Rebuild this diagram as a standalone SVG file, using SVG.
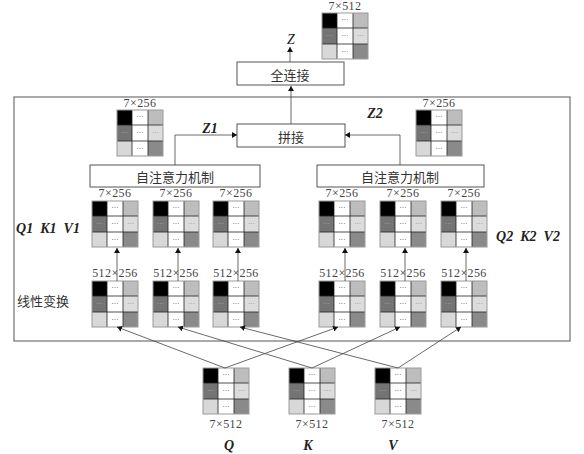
<svg xmlns="http://www.w3.org/2000/svg" xmlns:xlink="http://www.w3.org/1999/xlink" width="584" height="454" viewBox="0 0 584 454">
<style>
.box{fill:#fff;stroke:#555;stroke-width:1}
.ln{stroke:#444;stroke-width:0.8;fill:none}
.dim{font-family:"Liberation Serif",serif;font-size:12px;fill:#444;text-anchor:middle;letter-spacing:0.4px}
.cn{font-family:"Noto Sans CJK SC",sans-serif;font-size:13px;fill:#333;text-anchor:middle;dominant-baseline:central}
.it{font-family:"Liberation Serif",serif;font-style:italic;font-weight:bold;font-size:14px;fill:#222;text-anchor:middle}
.dt{font-family:"Liberation Sans",sans-serif;font-size:7px;text-anchor:middle;fill:#333}
.dg1{font-family:"Liberation Sans",sans-serif;font-size:7px;text-anchor:middle;fill:#b0b0b0}
.dg2{font-family:"Liberation Sans",sans-serif;font-size:7px;text-anchor:middle;fill:#888}
</style>
<defs>
<marker id="ah" viewBox="0 0 10 10" refX="10" refY="5" markerWidth="5" markerHeight="6" orient="auto" markerUnits="userSpaceOnUse" preserveAspectRatio="none">
<path d="M0,0 L10,5 L0,10 Z" fill="#111"/>
</marker>
<g id="mat">
<rect x="0" y="0" width="15" height="15" fill="#000"/>
<rect x="15" y="0" width="16" height="15" fill="#fff"/>
<rect x="31" y="0" width="15" height="15" fill="#bdbdbd"/>
<rect x="0" y="15" width="15" height="16" fill="#747474"/>
<rect x="15" y="15" width="16" height="16" fill="#fff"/>
<rect x="31" y="15" width="15" height="16" fill="#dcdcdc"/>
<rect x="0" y="31" width="15" height="15" fill="#d8d8d8"/>
<rect x="15" y="31" width="16" height="15" fill="#fff"/>
<rect x="31" y="31" width="15" height="15" fill="#8a8a8a"/>
<path d="M15,0 V46 M31,0 V46 M0,15 H46 M0,31 H46" stroke="#222" stroke-width="0.8"/>
<rect x="0" y="0" width="46" height="46" fill="none" stroke="#9a9a9a" stroke-width="1"/>
<text class="dt" x="23" y="9">···</text>
<text class="dt" x="23" y="25">···</text>
<text class="dt" x="23" y="41">···</text>
<text class="dg1" x="7.5" y="25">···</text>
<text class="dg2" x="38.5" y="25">···</text>
</g>
</defs>
<rect width="584" height="454" fill="#fff"/>

<g id="frame"><rect class="box" x="14" y="97" width="556" height="244" fill="none"/></g>

<g id="fc"><rect class="box" x="237" y="62" width="107" height="23"/><text class="cn" x="290" y="74">全连接</text></g>
<g id="concat"><rect class="box" x="237" y="124" width="108" height="23"/><text class="cn" x="291" y="136">拼接</text></g>
<g id="att1"><rect class="box" x="90" y="165" width="170" height="22"/><text class="cn" x="175" y="176">自注意力机制</text></g>
<g id="att2"><rect class="box" x="317" y="165" width="167" height="22"/><text class="cn" x="400" y="176">自注意力机制</text></g>

<g id="labels">
<text class="it" x="291" y="44" style="font-weight:normal">Z</text>
<text class="it" x="210" y="133">Z1</text>
<text class="it" x="375" y="118">Z2</text>
<text class="it" x="48" y="233" xml:space="preserve">Q1  K1  V1</text>
<text class="it" x="528" y="241" xml:space="preserve">Q2  K2  V2</text>
<text class="cn" x="43" y="300">线性变换</text>
<text class="it" x="229" y="450">Q</text>
<text class="it" x="308" y="450">K</text>
<text class="it" x="393" y="450">V</text>
</g>

<g id="m-top"><use xlink:href="#mat" x="322" y="13"/><text class="dim" x="345" y="10">7×512</text></g>
<g id="m-z1"><use xlink:href="#mat" x="117" y="110"/><text class="dim" x="140" y="107">7×256</text></g>
<g id="m-z2"><use xlink:href="#mat" x="416" y="110"/><text class="dim" x="439" y="107">7×256</text></g>

<g id="m-q1"><use xlink:href="#mat" x="92" y="201"/><text class="dim" x="115" y="197">7×256</text></g>
<g id="m-k1"><use xlink:href="#mat" x="153" y="201"/><text class="dim" x="176" y="197">7×256</text></g>
<g id="m-v1"><use xlink:href="#mat" x="213" y="201"/><text class="dim" x="236" y="197">7×256</text></g>
<g id="m-q2"><use xlink:href="#mat" x="319" y="201"/><text class="dim" x="342" y="197">7×256</text></g>
<g id="m-k2"><use xlink:href="#mat" x="380" y="201"/><text class="dim" x="403" y="197">7×256</text></g>
<g id="m-v2"><use xlink:href="#mat" x="441" y="201"/><text class="dim" x="464" y="197">7×256</text></g>

<g id="w-q1"><use xlink:href="#mat" x="92" y="281"/><text class="dim" x="115" y="277">512×256</text></g>
<g id="w-k1"><use xlink:href="#mat" x="153" y="281"/><text class="dim" x="176" y="277">512×256</text></g>
<g id="w-v1"><use xlink:href="#mat" x="213" y="281"/><text class="dim" x="236" y="277">512×256</text></g>
<g id="w-q2"><use xlink:href="#mat" x="319" y="281"/><text class="dim" x="342" y="277">512×256</text></g>
<g id="w-k2"><use xlink:href="#mat" x="380" y="281"/><text class="dim" x="403" y="277">512×256</text></g>
<g id="w-v2"><use xlink:href="#mat" x="441" y="281"/><text class="dim" x="464" y="277">512×256</text></g>

<g id="in-q"><use xlink:href="#mat" x="203" y="368"/><text class="dim" x="226" y="428">7×512</text></g>
<g id="in-k"><use xlink:href="#mat" x="289" y="368"/><text class="dim" x="312" y="428">7×512</text></g>
<g id="in-v"><use xlink:href="#mat" x="375" y="368"/><text class="dim" x="398" y="428">7×512</text></g>

<g id="connectors" class="ln" marker-end="url(#ah)">
<path d="M290,62 V47"/>
<path d="M291,124 V86"/>
<path d="M175,165 V135 H237"/>
<path d="M400,165 V135 H345"/>
<path d="M117,281 V248"/>
<path d="M178,281 V248"/>
<path d="M238,281 V248"/>
<path d="M345,281 V248"/>
<path d="M405,281 V248"/>
<path d="M466,281 V248"/>
<path d="M225,368 L117,327"/>
<path d="M225,368 L338,327"/>
<path d="M312,368 L178,327"/>
<path d="M312,368 L400,327"/>
<path d="M398,368 L240,327"/>
<path d="M398,368 L461,327"/>
</g>
</svg>
